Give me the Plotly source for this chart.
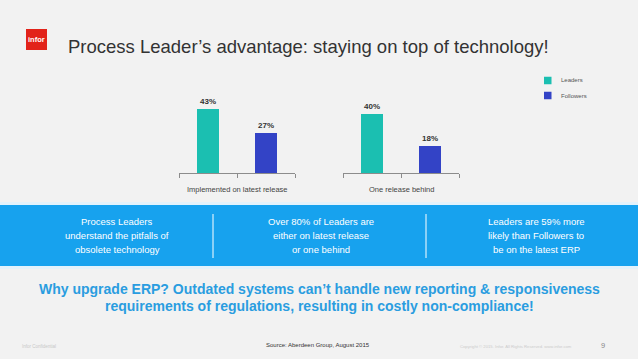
import plotly.graph_objects as go

# ---- data ----
categories = ["Implemented on latest release", "One release behind"]
series_names = ["Leaders", "Followers"]
leaders = [43, 40]
followers = [27, 18]
series_colors = ["#1bbfb1", "#3343c6"]

title_text = "Process Leader\u2019s advantage: staying on top of technology!"
band_texts = [
    ["Process Leaders", "understand the pitfalls of", "obsolete technology"],
    ["Over 80% of Leaders are", "either on latest release", "or one behind"],
    ["Leaders are 59% more", "likely than Followers to", "be on the latest ERP"],
]
bottom_lines = [
    "Why upgrade ERP? Outdated systems can\u2019t handle new reporting & responsiveness",
    "requirements of regulations, resulting in costly non-compliance!",
]
source_text = "Source: Aberdeen Group, August 2015"

W, H = 638, 359
def px(x):
    return x / W
def py(y):
    return 1 - y / H

FONT = "Liberation Sans, Arial, sans-serif"
BG = "#f2f2f2"

fig = go.Figure()

axes = [("x", "y"), ("x2", "y2")]
for i, (xa, ya) in enumerate(axes):
    vals = [leaders[i], followers[i]]
    for j, name in enumerate(series_names):
        fig.add_trace(go.Bar(
            x=[j], y=[vals[j]], width=0.38, name=name,
            marker=dict(color=series_colors[j], line=dict(width=0)),
            text=["<b>%d%%</b>" % vals[j]], textposition="outside",
            textfont=dict(size=8, color="#333333", family=FONT),
            cliponaxis=False, showlegend=False, hoverinfo="skip",
            xaxis=xa, yaxis=ya,
        ))

xcommon = dict(range=[-0.5, 1.5], showline=True, linecolor="#8c8c8c", linewidth=1,
               ticks="outside", tickvals=[-0.5, 0.5, 1.5], ticklen=4, tickcolor="#8c8c8c",
               showticklabels=False, showgrid=False, zeroline=False, fixedrange=True)
ycommon = dict(range=[0, 50], visible=False, domain=[py(173), py(99)], fixedrange=True)

fig.update_layout(
    width=W, height=H, margin=dict(l=0, r=0, t=0, b=0),
    paper_bgcolor=BG, plot_bgcolor="rgba(0,0,0,0)",
    xaxis=dict(domain=[px(179), px(295)], anchor="y", **xcommon),
    xaxis2=dict(domain=[px(343), px(459)], anchor="y2", **xcommon),
    yaxis=dict(anchor="x", **ycommon),
    yaxis2=dict(anchor="x2", **ycommon),
    bargap=0, showlegend=False,
    font=dict(family=FONT),
)

shapes = []
annotations = []

def ann(text, x, y, size, color, xanchor="center", xref="paper"):
    annotations.append(dict(text=text, x=x, y=y, xref=xref, yref="paper",
                            xanchor=xanchor, yanchor="middle", showarrow=False,
                            font=dict(size=size, color=color, family=FONT)))

# logo
shapes.append(dict(type="rect", xref="paper", yref="paper", x0=px(26), x1=px(47),
                   y0=py(50), y1=py(29), fillcolor="#e2231a", line=dict(width=0)))
ann("<b>infor</b>", px(36.5), py(39.5), 7.5, "white")
# title
ann(title_text, px(66), py(46), 18.5, "#333333", xanchor="left")

# category labels
for xa, cat in zip(["x", "x2"], categories):
    ann(cat, 0.5, py(189), 7.5, "#444444", xref=xa + " domain")

# legend (custom)
leg_y = [80.5, 95.5]
for name, col, ly in zip(series_names, series_colors, leg_y):
    shapes.append(dict(type="rect", xref="paper", yref="paper", x0=px(544), x1=px(551.5),
                       y0=py(ly + 3.75), y1=py(ly - 3.75), fillcolor=col, line=dict(width=0)))
    ann(name, px(559), py(ly), 6, "#555555", xanchor="left")

# blue band
shapes.append(dict(type="rect", xref="paper", yref="paper", x0=0, x1=1,
                   y0=py(269), y1=py(202), fillcolor="#e3f2fb", line=dict(width=0), layer="below"))
shapes.append(dict(type="rect", xref="paper", yref="paper", x0=0, x1=1,
                   y0=py(266), y1=py(205), fillcolor="#17a2ee", line=dict(width=0), layer="below"))
for dx in [213, 426]:
    shapes.append(dict(type="line", xref="paper", yref="paper", x0=px(dx), x1=px(dx),
                       y0=py(258), y1=py(214), line=dict(color="white", width=1)))
col_x = [117, 321, 536]
line_y = [221, 235, 249]
for cx, lines in zip(col_x, band_texts):
    for ly, t in zip(line_y, lines):
        ann(t, px(cx), py(ly), 9.5, "white")

# bottom bold text
for ly, t in zip([289, 306], bottom_lines):
    ann("<b>%s</b>" % t, px(319), py(ly), 14, "#2a9de0")

# footer
ann(source_text, px(318), py(345), 6, "#333333")
ann("Infor Confidential", px(20), py(346), 4.5, "#c8c8c8", xanchor="left")
ann("Copyright \u00a9 2015. Infor. All Rights Reserved. www.infor.com", px(516), py(346), 4.2, "#cccccc")
ann("9", px(603), py(345), 7.5, "#888888")

fig.update_layout(shapes=shapes, annotations=annotations)
fig.write_html("out.html", config={"displayModeBar": False, "staticPlot": True},
               post_script="document.body.style.margin='0';document.body.style.padding='0';")
